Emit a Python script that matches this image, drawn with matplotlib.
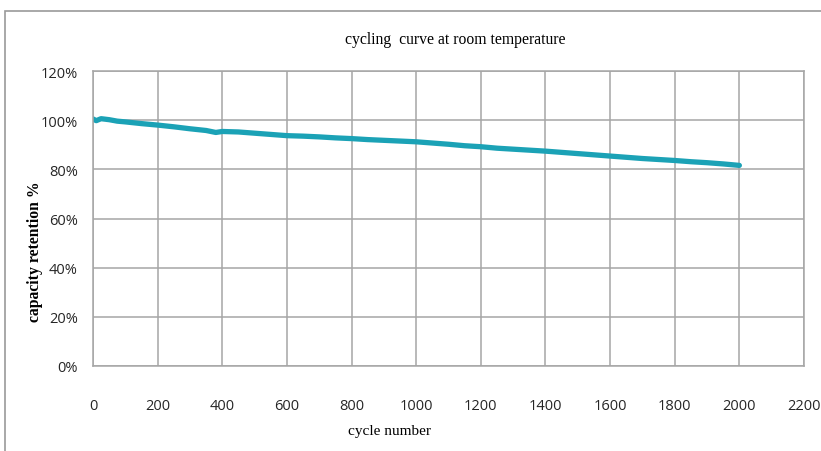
"""Cycling curve at room temperature"""
import matplotlib

matplotlib.use("Agg")
import matplotlib.pyplot as plt
from matplotlib.patches import Rectangle

# data
cycles = [0, 10, 25, 50, 75, 100, 150, 200, 250, 300, 350, 380, 400, 450, 500,
          550, 600, 650, 700, 750, 800, 850, 900, 950, 1000, 1050, 1100, 1150,
          1200, 1250, 1300, 1350, 1400, 1450, 1500, 1550, 1600, 1650, 1700,
          1750, 1800, 1850, 1900, 1950, 2000]
retention = [100.5, 99.8, 100.6, 100.2, 99.6, 99.3, 98.6, 98.0, 97.3, 96.5,
             95.8, 95.0, 95.4, 95.2, 94.7, 94.2, 93.7, 93.5, 93.2, 92.8, 92.5,
             92.1, 91.8, 91.5, 91.2, 90.7, 90.2, 89.6, 89.2, 88.6, 88.2, 87.8,
             87.4, 86.9, 86.4, 85.9, 85.4, 84.9, 84.4, 84.0, 83.6, 83.1, 82.7,
             82.2, 81.6]
x_ticks = list(range(0, 2201, 200))
y_ticks = list(range(0, 121, 20))
y_tick_labels = [f"{v}%" for v in y_ticks]

W, H = 821, 452
fig = plt.figure(figsize=(W / 100, H / 100), dpi=100)
ax = fig.add_axes([93 / W, 1 - 367 / H, (804 - 93) / W, (367 - 72) / H])

ax.plot(cycles, retention, color="#1ba2b6", linewidth=3.8, solid_capstyle="round")

ax.set_xlim(0, 2200)
ax.set_ylim(0, 120)
ax.set_xticks(x_ticks)
ax.set_yticks(y_ticks)
ax.set_yticklabels(y_tick_labels)
ax.grid(True, color="#a6a6a6", linewidth=1.1)
ax.set_axisbelow(True)
for spine in ax.spines.values():
    spine.set_color("#a6a6a6")
    spine.set_linewidth(1.1)
ax.tick_params(length=0, labelsize=10.5, labelcolor="#262626")
ax.tick_params(axis="x", pad=23)
ax.tick_params(axis="y", pad=11)
for lab in ax.get_xticklabels() + ax.get_yticklabels():
    lab.set_family("Open Sans")

fig.text(455 / W, 1 - 40 / H, "cycling  curve at room temperature",
         family="Liberation Serif", fontsize=11.3, ha="center", va="center")
fig.text(389 / W, 1 - 432 / H, "cycle number",
         family="Liberation Serif", fontsize=11, ha="center", va="center")
fig.text(35 / W, 1 - 252 / H, "capacity retention %",
         family="Liberation Serif", fontsize=11.3, fontweight="bold",
         rotation=90, ha="center", va="center")

# outer chart frame (only top and left edges visible)
fig.add_artist(Rectangle((5 / W, -0.1), 1.2, 1.1 - 12 / H,
                         transform=fig.transFigure, fill=False,
                         edgecolor="#9a9a9a", linewidth=1.2))

fig.savefig("out.png", dpi=100)
